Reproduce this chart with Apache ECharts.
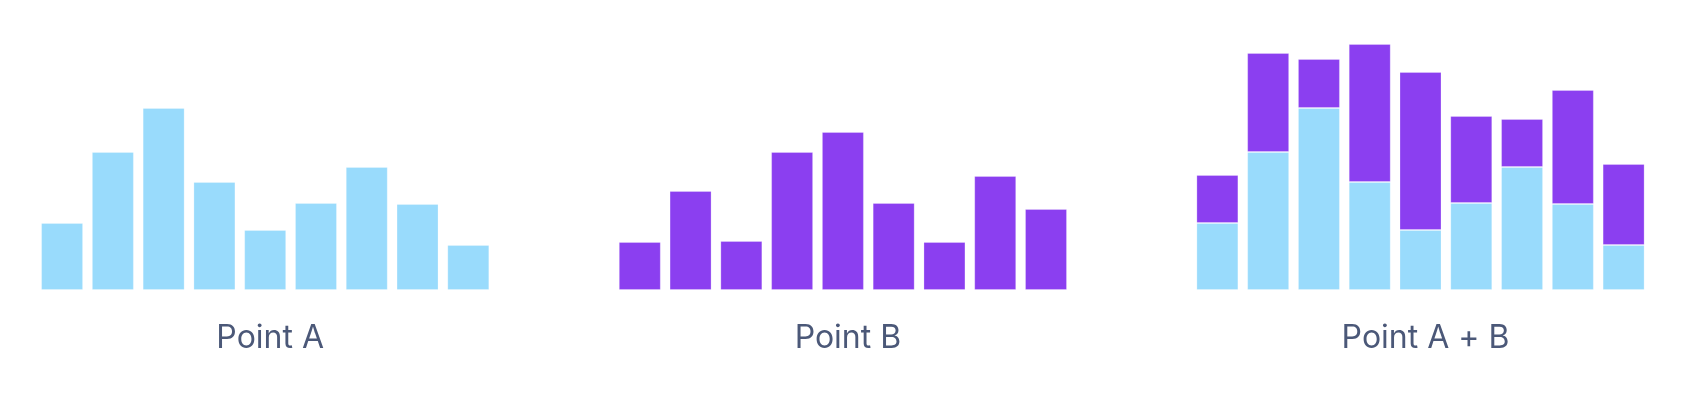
<!DOCTYPE html>
<html>
<head>
<meta charset="utf-8">
<title>Point A / Point B</title>
<script src="https://cdn.jsdelivr.net/npm/echarts@6/dist/echarts.min.js"></script>
<style>
  html, body { margin: 0; padding: 0; background: #fff; }
  #chart { width: 1686px; height: 403px; }
</style>
</head>
<body>
<div id="chart"></div>
<script>
// data
const categories = ['1', '2', '3', '4', '5', '6', '7', '8', '9'];
const pointA = [6.7, 13.8, 18.2, 10.8, 6.0, 8.7, 12.3, 8.6, 4.5];
const pointB = [4.8, 9.9, 4.9, 13.8, 15.8, 8.7, 4.8, 11.4, 8.1];
const panelTitles = ['Point A', 'Point B', 'Point A + B'];

const LIGHT = '#99dbfc';
const PURPLE = '#8b3ff0';
// bars have a faint lighter edge
const edge = { borderColor: 'rgba(255,255,255,0.25)', borderWidth: 1 };

const chart = echarts.init(document.getElementById('chart'), null, { renderer: 'canvas' });

// three panels side by side, same y scale
const panelLeft = [36.7, 614.4, 1192];
const panelWidth = 457;

const grids = panelLeft.map(l => ({ left: l, width: panelWidth, top: 40, bottom: 113 }));
const xAxes = panelLeft.map((l, i) => ({
  type: 'category', gridIndex: i, data: categories, show: false
}));
const yAxes = panelLeft.map((l, i) => ({
  type: 'value', gridIndex: i, min: 0, max: 25, show: false
}));

chart.setOption({
  animation: false,
  grid: grids,
  xAxis: xAxes,
  yAxis: yAxes,
  title: panelTitles.map((t, i) => ({
    text: t,
    left: panelLeft[i] + panelWidth / 2,
    top: 317,
    textAlign: 'center',
    textStyle: { fontFamily: 'Inter', fontSize: 32, fontWeight: 'normal', color: '#4b5878' }
  })),
  series: [
    { type: 'bar', xAxisIndex: 0, yAxisIndex: 0, data: pointA, barWidth: 42, itemStyle: { color: LIGHT, ...edge } },
    { type: 'bar', xAxisIndex: 1, yAxisIndex: 1, data: pointB, barWidth: 42, itemStyle: { color: PURPLE, ...edge } },
    { type: 'bar', xAxisIndex: 2, yAxisIndex: 2, stack: 'ab', data: pointA, barWidth: 42, itemStyle: { color: LIGHT, ...edge } },
    { type: 'bar', xAxisIndex: 2, yAxisIndex: 2, stack: 'ab', data: pointB, barWidth: 42, itemStyle: { color: PURPLE, ...edge } }
  ]
});
</script>
</body>
</html>
